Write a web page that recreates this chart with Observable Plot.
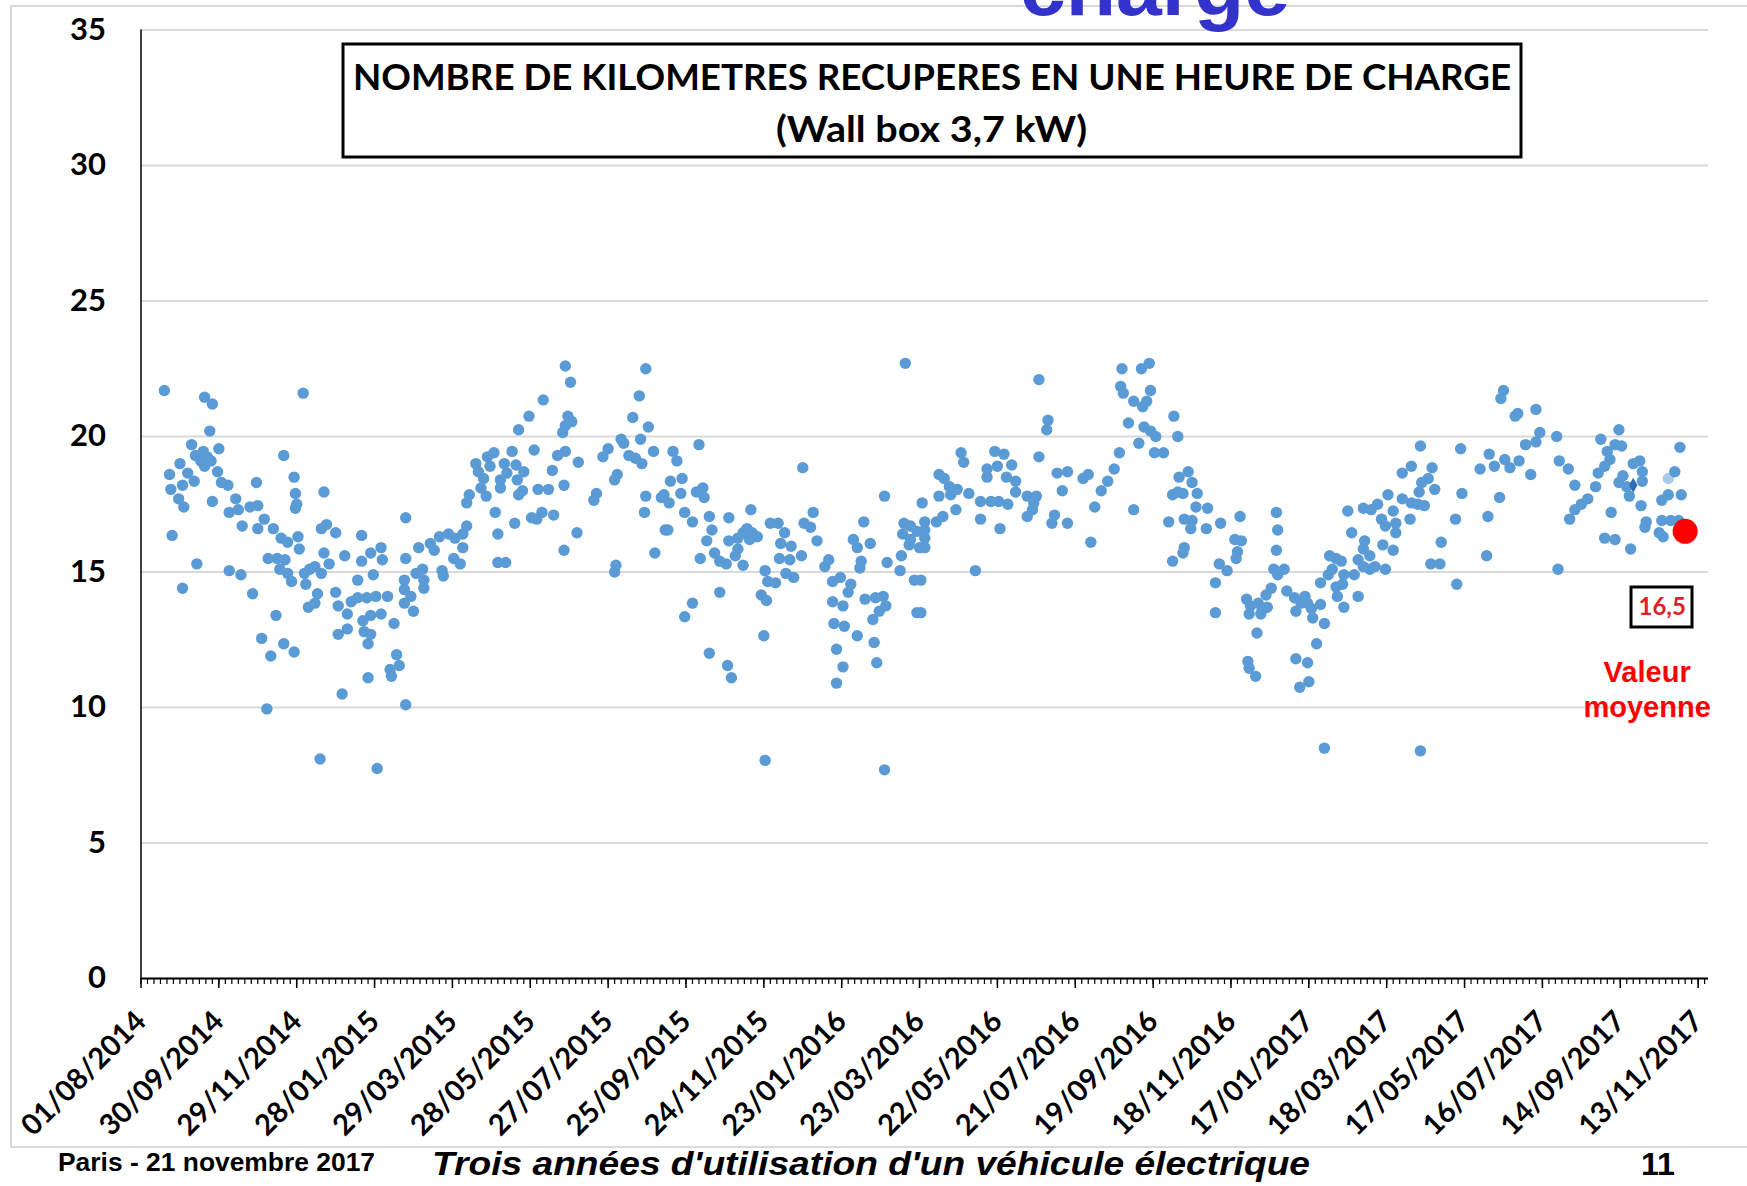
<!DOCTYPE html>
<html><head><meta charset="utf-8">
<script src="https://cdn.jsdelivr.net/npm/d3@7"></script>
<script src="https://cdn.jsdelivr.net/npm/@observablehq/plot@0.6"></script>
<style>
html,body{margin:0;padding:0;background:#fff;}
#wrap{position:relative;width:1747px;height:1186px;overflow:hidden;background:#fff;}
#wrap > svg{position:absolute;left:0;top:0;}
</style></head><body><div id="wrap"></div>
<script>
// ---- DATA ----
// each point: [days since 01/08/2014, kilometres recovered in one hour of charge]
const seg2014a = [[18,21.7],[49,21.45],[55,21.2],[53,20.2],[39,19.7],[60,19.55],[42,19.3],[48,19.45],[51,19.25],[46,19.1],[49,18.9],[54,19.1],[30,19.0],[22,18.6],[36,18.65],[41,18.35],[32,18.2],[23,18.05],[59,18.7],[62,18.3],[67,18.2],[29,17.7],[33,17.4],[55,17.6],[24,16.35],[32,14.4],[43,15.3],[73,17.7],[68,17.2],[75,17.3],[84,17.4],[90,17.45],[78,16.7],[89,18.3],[110,19.3],[118,18.5],[119,17.9],[120,17.5],[119,17.35],[141,17.95],[68,15.05],[77,14.9],[86,14.2],[95,16.95],[90,16.6],[102,16.6],[108,16.25],[113,16.1],[121,16.3],[122,15.85],[98,15.5],[105,15.5],[111,15.45],[107,15.1],[113,14.95],[116,14.65],[126,14.95],[130,15.1],[134,15.2],[127,14.55],[139,14.95],[136,14.2],[134,13.85],[129,13.7],[141,15.7],[143,16.75],[139,16.6],[150,16.45],[145,15.3],[157,15.6],[170,16.35],[170,15.4],[177,15.7],[185,15.9],[186,15.45],[179,14.9],[167,14.7],[150,14.25],[152,13.75],[159,13.45],[162,13.9],[167,14.05],[174,14.05],[181,14.1],[190,14.1],[177,13.4],[171,13.2],[185,13.45],[195,13.1],[172,12.8],[177,12.7],[152,12.7],[159,12.9],[175,12.35],[104,13.4],[93,12.55],[100,11.9],[110,12.35],[118,12.05],[197,11.95],[192,11.4],[199,11.55],[193,11.15],[175,11.1],[155,10.5],[97,9.95],[138,8.1],[182,7.75],[204,17.0],[204,15.5],[203,14.7],[203,14.35],[203,13.85],[204,10.1],[125,21.6]];
const seg2015a = [[214,15.9],[212,14.95],[217,15.1],[218,14.7],[218,14.4],[210,13.55],[208,14.1],[223,16.05],[226,15.8],[230,16.3],[237,16.4],[242,16.25],[248,16.4],[251,16.7],[248,15.9],[241,15.5],[246,15.3],[232,15.05],[233,14.85],[251,17.55],[253,17.85],[258,19.0],[260,18.7],[262,18.1],[266,17.8],[267,19.25],[272,19.4],[269,18.9],[264,18.45],[277,18.4],[277,18.1],[280,19.0],[282,18.65],[286,19.45],[289,18.95],[290,18.4],[291,17.85],[295,18.7],[294,18.0],[273,17.2],[275,16.4],[275,15.35],[281,15.35],[288,16.8],[291,20.25],[299,20.75],[303,19.5],[310,21.35],[306,18.05],[314,18.05],[301,17.0],[305,16.95],[309,17.2],[318,17.1],[317,18.75],[321,19.3],[327,19.45],[326,18.2],[325,20.15],[327,20.4],[329,20.75],[332,20.55],[327,22.6],[331,22.0],[337,19.05],[326,15.8],[336,16.45],[349,17.65],[351,17.9],[356,19.25],[360,19.55],[365,18.4],[367,18.6],[370,19.9],[372,19.75],[365,15.0],[366,15.25],[379,20.7],[376,19.3],[381,19.2],[386,19.0],[384,21.5],[389,22.5],[391,20.35],[385,19.9],[395,19.45],[389,17.8],[388,17.2],[396,15.7],[401,17.75],[404,16.55]];
const seg2015b = [[410,19.45],[413,19.1],[430,19.7],[408,18.35],[417,18.45],[416,17.9],[403,17.85],[407,17.55],[406,16.55],[428,17.95],[433,18.1],[434,17.75],[419,17.2],[425,16.85],[438,17.05],[440,16.55],[436,16.15],[453,17.0],[431,15.5],[442,15.7],[446,15.4],[451,15.3],[453,16.15],[460,16.25],[464,16.45],[467,16.6],[471,16.45],[475,16.3],[470,17.3],[469,16.2],[460,15.85],[464,15.25],[458,15.6],[446,14.25],[425,13.85],[419,13.35],[438,12.0],[452,11.55],[455,11.1],[485,16.8],[491,16.8],[496,16.45],[493,16.05],[501,15.95],[492,15.5],[500,15.45],[509,15.6],[497,14.95],[503,14.8],[481,15.05],[483,14.65],[489,14.6],[478,14.15],[482,13.95],[480,12.65],[510,18.85],[511,16.8],[518,17.2],[516,16.65],[521,16.15],[530,15.45],[527,15.2],[533,14.65],[539,14.8],[547,14.55],[533,13.9],[541,13.75],[545,14.25],[534,13.1],[542,13.0],[536,12.15],[541,11.5],[536,10.9],[552,12.65],[549,16.2],[552,15.9],[557,16.85],[562,16.05],[555,15.4],[554,15.15],[558,14.0],[566,14.05],[572,14.1],[574,13.75],[569,13.55],[564,13.25],[565,12.4],[567,11.65],[573,17.8],[575,15.35],[586,15.6],[585,15.05],[596,14.7],[598,13.5],[587,16.4],[588,16.8],[593,16.7],[593,16.2],[598,16.5],[600,15.9],[589,22.7],[481,8.05],[573,7.7],[592,16.0]];
const seg2016a = [[602,17.55],[604,16.85],[604,16.55],[604,16.25],[604,15.9],[601,14.7],[601,13.5],[613,16.85],[618,17.05],[615,17.8],[615,18.6],[619,18.45],[623,18.15],[624,17.85],[628,17.3],[629,18.05],[632,19.4],[634,19.05],[638,17.9],[643,15.05],[647,17.6],[647,16.95],[652,18.8],[652,18.5],[658,19.45],[660,18.9],[665,19.35],[671,18.95],[667,18.5],[674,18.35],[674,17.95],[655,17.6],[661,17.6],[668,17.5],[662,16.6],[683,17.8],[690,17.8],[688,17.55],[687,17.3],[683,17.05],[692,19.25],[692,22.1],[699,20.6],[698,20.25],[706,18.65],[714,18.7],[710,18.0],[704,17.1],[702,16.8],[714,16.8],[726,18.45],[730,18.6],[732,16.1],[735,17.4],[740,18.0],[745,18.35],[750,18.8],[754,19.4],[756,22.5],[755,21.85],[757,21.6],[761,20.5],[765,21.3],[771,22.5],[777,22.7],[772,21.1],[775,21.3],[778,21.7],[769,19.75],[773,20.35],[778,20.2],[782,20.0],[781,19.4],[788,19.4],[765,17.3],[796,20.75],[799,20.0],[800,18.5],[792,16.85],[795,17.85],[799,17.95],[795,15.4]];
const seg2016b = [[807,18.7],[803,17.9],[810,18.3],[814,17.9],[804,16.95],[810,16.9],[813,17.4],[809,16.6],[822,17.35],[821,16.6],[804,15.9],[803,15.7],[832,16.8],[847,17.05],[843,16.2],[848,16.15],[845,15.75],[844,15.5],[831,15.3],[837,15.05],[828,14.6],[828,13.5],[852,14.0],[855,13.75],[861,13.85],[864,13.6],[854,13.45],[863,13.45],[868,13.7],[867,14.15],[871,14.4],[876,14.9],[881,15.1],[873,15.1],[875,15.8],[876,16.55],[875,17.2],[860,12.75],[853,11.7],[854,11.45],[859,11.15],[883,14.3],[889,14.05],[890,13.55],[897,14.1],[899,13.85],[894,13.85],[903,13.3],[909,13.8],[912,13.1],[902,13.65],[906,12.35],[890,11.8],[899,11.65],[893,10.75],[900,10.95],[912,8.5],[909,14.6],[915,14.9],[916,15.6],[921,15.5],[918,15.1],[925,15.4],[921,14.45],[926,14.55],[922,14.1],[927,13.7],[938,14.1],[927,14.9],[935,14.9],[930,17.25],[933,16.45],[942,17.35],[948,17.3],[953,17.5],[961,17.85],[956,16.95],[959,16.7],[965,17.25],[967,16.8],[967,16.45],[943,16.15],[942,15.85],[947,15.6],[938,15.45],[942,15.2],[947,15.1],[951,15.2],[959,15.1],[957,16.0],[965,15.8],[972,18.65],[979,18.9],[972,17.7],[979,17.55],[978,16.95],[984,17.5],[989,17.45],[986,19.65],[995,18.85],[992,18.45],[987,18.3],[985,17.95],[997,18.05],[994,15.3],[1001,15.3],[986,8.4]];
const seg2017 = [[1002,16.1],[1014,14.55],[1013,16.95],[1018,17.9],[1017,19.55],[1032,18.8],[1039,19.35],[1043,18.9],[1051,19.15],[1055,18.85],[1062,19.1],[1038,17.05],[1047,17.75],[1037,15.6],[1048,21.4],[1050,21.7],[1059,20.75],[1061,20.85],[1075,21.0],[1078,20.15],[1075,19.8],[1067,19.7],[1071,18.6],[1091,20.0],[1093,19.1],[1100,18.8],[1105,18.2],[1092,15.1],[1101,16.95],[1105,17.3],[1110,17.5],[1115,17.7],[1121,18.15],[1123,18.65],[1128,18.9],[1132,19.15],[1130,19.45],[1125,19.9],[1136,19.7],[1141,19.65],[1139,20.25],[1133,17.2],[1128,16.25],[1136,16.2],[1142,18.55],[1139,18.3],[1145,18.15],[1148,15.85],[1147,17.8],[1150,19.0],[1155,19.1],[1157,18.7],[1157,18.35],[1156,17.45],[1160,16.85],[1159,16.65],[1170,16.45],[1173,16.3],[1172,16.9],[1179,16.9],[1185,16.9],[1172,17.65],[1177,17.85],[1187,17.85],[1182,18.7],[1186,19.6]];
const oddDiamond = [[1150,18.2]];
const oddLight = [[1177,18.45]];
const meanDay = 1190, meanValue = 16.5, meanLabel = "16,5";
const tickLabels = ["01/08/2014","30/09/2014","29/11/2014","28/01/2015","29/03/2015","28/05/2015","27/07/2015","25/09/2015","24/11/2015","23/01/2016","23/03/2016","22/05/2016","21/07/2016","19/09/2016","18/11/2016","17/01/2017","18/03/2017","17/05/2017","16/07/2017","14/09/2017","13/11/2017"];
const yTicks = [0,5,10,15,20,25,30,35];
const axisEndDay = 1208; // 21/11/2017

// ---- BUILD ----
const origin = Date.UTC(2014,7,1);
const toDate = d => new Date(origin + d*864e5);
const toRows = arr => arr.map(([d,v]) => ({date: toDate(d), km: v}));
const points = toRows([...seg2014a,...seg2015a,...seg2015b,...seg2016a,...seg2016b,...seg2017]);
const parse = d3.utcParse("%d/%m/%Y");
const fmt = d3.utcFormat("%d/%m/%Y");
const majorTicks = tickLabels.map(parse);
const minorTicks = d3.range(0, axisEndDay + 1, 5).map(toDate);
const mean = [{date: toDate(meanDay), km: meanValue}];

const calibri = "Lato, 'Open Sans', sans-serif";
const arialB = "'Liberation Sans', Arial, sans-serif";

const chart = Plot.plot({
  width: 1747, height: 1186,
  marginLeft: 140.5, marginRight: 39, marginTop: 29.5, marginBottom: 208,
  style: {fontFamily: calibri, background: "transparent", overflow: "visible", color: "#000"},
  x: {type: "utc", domain: [toDate(0), toDate(axisEndDay)], label: null},
  y: {domain: [0, 35], label: null},
  marks: [
    Plot.gridY(yTicks, {stroke: "#d9d9d9", strokeOpacity: 1, strokeWidth: 2}),
    Plot.axisY(yTicks, {tickSize: 0, tickPadding: 35, fontSize: 31, fontWeight: 700, fill: "#000", label: null}),
    Plot.ruleX([toDate(0)], {stroke: "#000", strokeWidth: 1.5}),
    Plot.ruleY([0], {stroke: "#000", strokeWidth: 2}),
    Plot.axisX(minorTicks, {tickSize: 6, fill: "none", stroke: "#000", strokeWidth: 1.2, label: null}),
    Plot.axisX(majorTicks, {tickSize: 10, tickRotate: -45, tickPadding: 28, tickFormat: fmt, fontSize: 29, fontWeight: 700, fill: "#000", stroke: "#000", strokeWidth: 1.5, label: null}),
    Plot.dot(toRows(oddLight), {x: "date", y: "km", r: 5.7, fill: "#a9cbea"}),
    Plot.dot(points, {x: "date", y: "km", r: 5.7, fill: "#5B9BD5"}),
    Plot.dot(toRows(oddDiamond), {x: "date", y: "km", r: 4.5, symbol: "diamond", fill: "#2f6db5"}),
    Plot.dot(mean, {x: "date", y: "km", r: 12.5, fill: "#ff0000"}),
    Plot.text(mean, {x: "date", y: "km", text: () => meanLabel, dx: -23, dy: 76, fontSize: 24, fontWeight: 700, fill: "#e0202a", fontFamily: calibri}),
    Plot.text(mean, {x: "date", y: "km", text: () => "Valeur", dx: -38, dy: 141, fontSize: 29, fontWeight: 700, fill: "#ff0000", fontFamily: arialB}),
    Plot.text(mean, {x: "date", y: "km", text: () => "moyenne", dx: -38, dy: 176, fontSize: 29, fontWeight: 700, fill: "#ff0000", fontFamily: arialB})
  ]
});

const wrap = document.getElementById("wrap");
const under = d3.create("svg").attr("width", 1747).attr("height", 1186);
under.append("rect").attr("x", 11).attr("y", 6).attr("width", 1800).attr("height", 1141)
  .attr("fill", "none").attr("stroke", "#d9d9d9").attr("stroke-width", 2);
wrap.appendChild(under.node());
wrap.appendChild(chart);

const over = d3.create("svg").attr("width", 1747).attr("height", 1186);
over.append("rect").attr("x", 1631).attr("y", 587).attr("width", 61).attr("height", 40)
  .attr("fill", "none").attr("stroke", "#000").attr("stroke-width", 3);
over.append("rect").attr("x", 343).attr("y", 44).attr("width", 1178).attr("height", 113)
  .attr("fill", "#fff").attr("stroke", "#000").attr("stroke-width", 3);
const t = (txt, x, y, size, opts = {}) => {
  const el = over.append("text").attr("x", x).attr("y", y).attr("font-size", size)
    .attr("font-family", opts.family || calibri).attr("font-weight", opts.weight || 700)
    .attr("fill", opts.fill || "#000").text(txt);
  if (opts.italic) el.attr("font-style", "italic");
  if (opts.len) el.attr("textLength", opts.len).attr("lengthAdjust", "spacingAndGlyphs");
  if (opts.anchor) el.attr("text-anchor", opts.anchor);
  return el;
};
const narrow = "'Liberation Sans Narrow', 'Liberation Sans', Arial, sans-serif";
t("charge", 1020, 15, 82, {family: arialB, fill: "#3333cc", len: 270});
t("NOMBRE DE KILOMETRES RECUPERES EN UNE HEURE DE CHARGE", 353, 90, 36, {len: 1158});
t("(Wall box 3,7 kW)", 776, 142, 36, {len: 311});
t("Paris - 21 novembre 2017", 58, 1171, 25, {family: narrow, len: 317});
t("Trois années d'utilisation d'un véhicule électrique", 432, 1175, 33, {family: narrow, italic: true, len: 878});
t("11", 1641, 1175, 32, {family: narrow, len: 34});
wrap.appendChild(over.node());
</script></body></html>
